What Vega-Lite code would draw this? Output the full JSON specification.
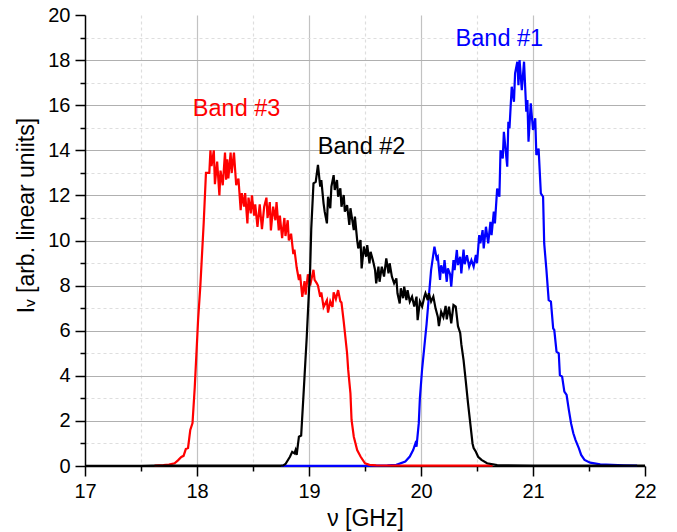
{
  "$schema": "https://vega.github.io/schema/vega-lite/v6.json",
  "width": 560,
  "height": 451,
  "autosize": {"type": "none"},
  "padding": {"left": 85, "top": 15, "right": 32, "bottom": 66},
  "background": "white",
  "config": {"view": {"stroke": null}, "font": "Liberation Sans"},
  "datasets": {
    "spectra": [
      {"band":"Band #1","nu":18.75,"I":0.01},{"band":"Band #1","nu":19.5,"I":0.01},{"band":"Band #1","nu":19.6,"I":0.02},{"band":"Band #1","nu":19.7,"I":0.03},{"band":"Band #1","nu":19.78,"I":0.05},{"band":"Band #1","nu":19.86,"I":0.2},{"band":"Band #1","nu":19.9,"I":0.42},{"band":"Band #1","nu":19.93,"I":0.71},{"band":"Band #1","nu":19.95,"I":1.0},{"band":"Band #1","nu":19.96,"I":0.86},{"band":"Band #1","nu":19.98,"I":1.89},{"band":"Band #1","nu":19.99,"I":3.0},{"band":"Band #1","nu":20.01,"I":4.3},{"band":"Band #1","nu":20.03,"I":5.3},{"band":"Band #1","nu":20.05,"I":6.3},{"band":"Band #1","nu":20.07,"I":7.5},{"band":"Band #1","nu":20.09,"I":8.69},{"band":"Band #1","nu":20.12,"I":9.73},{"band":"Band #1","nu":20.14,"I":9.2},{"band":"Band #1","nu":20.15,"I":9.28},{"band":"Band #1","nu":20.17,"I":8.25},{"band":"Band #1","nu":20.18,"I":8.9},{"band":"Band #1","nu":20.2,"I":8.54},{"band":"Band #1","nu":20.21,"I":9.13},{"band":"Band #1","nu":20.23,"I":8.17},{"band":"Band #1","nu":20.24,"I":8.76},{"band":"Band #1","nu":20.26,"I":8.5},{"band":"Band #1","nu":20.27,"I":7.95},{"band":"Band #1","nu":20.29,"I":9.13},{"band":"Band #1","nu":20.3,"I":8.69},{"band":"Band #1","nu":20.32,"I":9.58},{"band":"Band #1","nu":20.33,"I":8.91},{"band":"Band #1","nu":20.35,"I":9.28},{"band":"Band #1","nu":20.36,"I":8.54},{"band":"Band #1","nu":20.38,"I":9.6},{"band":"Band #1","nu":20.39,"I":8.95},{"band":"Band #1","nu":20.41,"I":9.35},{"band":"Band #1","nu":20.43,"I":8.84},{"band":"Band #1","nu":20.45,"I":9.13},{"band":"Band #1","nu":20.47,"I":8.84},{"band":"Band #1","nu":20.49,"I":9.36},{"band":"Band #1","nu":20.5,"I":8.99},{"band":"Band #1","nu":20.52,"I":10.24},{"band":"Band #1","nu":20.53,"I":9.87},{"band":"Band #1","nu":20.55,"I":10.46},{"band":"Band #1","nu":20.56,"I":9.65},{"band":"Band #1","nu":20.58,"I":10.61},{"band":"Band #1","nu":20.6,"I":9.87},{"band":"Band #1","nu":20.62,"I":10.83},{"band":"Band #1","nu":20.63,"I":10.24},{"band":"Band #1","nu":20.65,"I":11.28},{"band":"Band #1","nu":20.66,"I":10.76},{"band":"Band #1","nu":20.68,"I":12.3},{"band":"Band #1","nu":20.7,"I":11.94},{"band":"Band #1","nu":20.71,"I":14.0},{"band":"Band #1","nu":20.73,"I":13.64},{"band":"Band #1","nu":20.74,"I":14.82},{"band":"Band #1","nu":20.77,"I":13.27},{"band":"Band #1","nu":20.78,"I":15.27},{"band":"Band #1","nu":20.79,"I":14.97},{"band":"Band #1","nu":20.81,"I":16.82},{"band":"Band #1","nu":20.83,"I":16.15},{"band":"Band #1","nu":20.84,"I":17.41},{"band":"Band #1","nu":20.86,"I":17.93},{"band":"Band #1","nu":20.87,"I":16.89},{"band":"Band #1","nu":20.88,"I":18.0},{"band":"Band #1","nu":20.9,"I":16.67},{"band":"Band #1","nu":20.92,"I":17.93},{"band":"Band #1","nu":20.94,"I":15.71},{"band":"Band #1","nu":20.95,"I":16.23},{"band":"Band #1","nu":20.96,"I":14.38},{"band":"Band #1","nu":20.98,"I":16.08},{"band":"Band #1","nu":21.0,"I":14.9},{"band":"Band #1","nu":21.02,"I":15.42},{"band":"Band #1","nu":21.03,"I":13.79},{"band":"Band #1","nu":21.05,"I":14.08},{"band":"Band #1","nu":21.07,"I":12.09},{"band":"Band #1","nu":21.09,"I":11.94},{"band":"Band #1","nu":21.1,"I":9.87},{"band":"Band #1","nu":21.12,"I":8.69},{"band":"Band #1","nu":21.14,"I":7.36},{"band":"Band #1","nu":21.16,"I":7.29},{"band":"Band #1","nu":21.18,"I":6.1},{"band":"Band #1","nu":21.19,"I":6.03},{"band":"Band #1","nu":21.21,"I":5.07},{"band":"Band #1","nu":21.23,"I":5.0},{"band":"Band #1","nu":21.24,"I":4.03},{"band":"Band #1","nu":21.26,"I":3.96},{"band":"Band #1","nu":21.28,"I":3.3},{"band":"Band #1","nu":21.3,"I":3.15},{"band":"Band #1","nu":21.32,"I":2.49},{"band":"Band #1","nu":21.34,"I":1.89},{"band":"Band #1","nu":21.36,"I":1.45},{"band":"Band #1","nu":21.38,"I":1.15},{"band":"Band #1","nu":21.41,"I":0.78},{"band":"Band #1","nu":21.43,"I":0.49},{"band":"Band #1","nu":21.46,"I":0.27},{"band":"Band #1","nu":21.51,"I":0.15},{"band":"Band #1","nu":21.6,"I":0.07},{"band":"Band #1","nu":21.81,"I":0.03},{"band":"Band #1","nu":21.93,"I":0.02},

      {"band":"Band #3","nu":17.62,"I":0.02},{"band":"Band #3","nu":17.7,"I":0.04},{"band":"Band #3","nu":17.75,"I":0.06},{"band":"Band #3","nu":17.8,"I":0.12},{"band":"Band #3","nu":17.83,"I":0.25},{"band":"Band #3","nu":17.86,"I":0.4},{"band":"Band #3","nu":17.88,"I":0.45},{"band":"Band #3","nu":17.9,"I":0.75},{"band":"Band #3","nu":17.92,"I":0.8},{"band":"Band #3","nu":17.94,"I":1.6},{"band":"Band #3","nu":17.96,"I":1.9},{"band":"Band #3","nu":17.98,"I":3.5},{"band":"Band #3","nu":18.0,"I":5.5},{"band":"Band #3","nu":18.01,"I":6.5},{"band":"Band #3","nu":18.03,"I":8.0},{"band":"Band #3","nu":18.06,"I":10.8},{"band":"Band #3","nu":18.08,"I":13.0},{"band":"Band #3","nu":18.11,"I":13.0},{"band":"Band #3","nu":18.12,"I":14.0},{"band":"Band #3","nu":18.13,"I":13.3},{"band":"Band #3","nu":18.15,"I":14.0},{"band":"Band #3","nu":18.16,"I":12.5},{"band":"Band #3","nu":18.18,"I":13.5},{"band":"Band #3","nu":18.2,"I":12.0},{"band":"Band #3","nu":18.21,"I":13.1},{"band":"Band #3","nu":18.23,"I":12.45},{"band":"Band #3","nu":18.25,"I":13.9},{"band":"Band #3","nu":18.26,"I":12.7},{"band":"Band #3","nu":18.27,"I":13.6},{"band":"Band #3","nu":18.28,"I":12.75},{"band":"Band #3","nu":18.3,"I":13.9},{"band":"Band #3","nu":18.31,"I":13.0},{"band":"Band #3","nu":18.33,"I":13.9},{"band":"Band #3","nu":18.35,"I":12.45},{"band":"Band #3","nu":18.37,"I":12.75},{"band":"Band #3","nu":18.39,"I":11.35},{"band":"Band #3","nu":18.4,"I":12.1},{"band":"Band #3","nu":18.42,"I":11.5},{"band":"Band #3","nu":18.43,"I":12.1},{"band":"Band #3","nu":18.45,"I":10.76},{"band":"Band #3","nu":18.46,"I":11.9},{"band":"Band #3","nu":18.48,"I":11.2},{"band":"Band #3","nu":18.49,"I":12.0},{"band":"Band #3","nu":18.51,"I":11.1},{"band":"Band #3","nu":18.52,"I":11.6},{"band":"Band #3","nu":18.54,"I":10.6},{"band":"Band #3","nu":18.56,"I":11.6},{"band":"Band #3","nu":18.58,"I":10.5},{"band":"Band #3","nu":18.6,"I":11.5},{"band":"Band #3","nu":18.62,"I":11.9},{"band":"Band #3","nu":18.63,"I":11.0},{"band":"Band #3","nu":18.65,"I":11.7},{"band":"Band #3","nu":18.66,"I":10.45},{"band":"Band #3","nu":18.68,"I":11.5},{"band":"Band #3","nu":18.7,"I":10.9},{"band":"Band #3","nu":18.71,"I":11.7},{"band":"Band #3","nu":18.73,"I":10.45},{"band":"Band #3","nu":18.74,"I":11.1},{"band":"Band #3","nu":18.76,"I":10.1},{"band":"Band #3","nu":18.78,"I":11.0},{"band":"Band #3","nu":18.79,"I":10.2},{"band":"Band #3","nu":18.81,"I":10.9},{"band":"Band #3","nu":18.82,"I":10.0},{"band":"Band #3","nu":18.84,"I":10.3},{"band":"Band #3","nu":18.86,"I":9.4},{"band":"Band #3","nu":18.87,"I":9.6},{"band":"Band #3","nu":18.89,"I":8.8},{"band":"Band #3","nu":18.91,"I":8.25},{"band":"Band #3","nu":18.92,"I":8.5},{"band":"Band #3","nu":18.94,"I":7.5},{"band":"Band #3","nu":18.96,"I":8.2},{"band":"Band #3","nu":18.97,"I":7.6},{"band":"Band #3","nu":18.99,"I":8.5},{"band":"Band #3","nu":19.01,"I":8.0},{"band":"Band #3","nu":19.04,"I":8.7},{"band":"Band #3","nu":19.05,"I":8.25},{"band":"Band #3","nu":19.07,"I":8.1},{"band":"Band #3","nu":19.08,"I":8.0},{"band":"Band #3","nu":19.1,"I":7.5},{"band":"Band #3","nu":19.11,"I":7.7},{"band":"Band #3","nu":19.13,"I":7.05},{"band":"Band #3","nu":19.16,"I":7.35},{"band":"Band #3","nu":19.17,"I":6.8},{"band":"Band #3","nu":19.19,"I":7.3},{"band":"Band #3","nu":19.21,"I":7.05},{"band":"Band #3","nu":19.22,"I":7.7},{"band":"Band #3","nu":19.24,"I":7.4},{"band":"Band #3","nu":19.26,"I":7.8},{"band":"Band #3","nu":19.28,"I":7.3},{"band":"Band #3","nu":19.29,"I":7.25},{"band":"Band #3","nu":19.31,"I":6.4},{"band":"Band #3","nu":19.34,"I":5.0},{"band":"Band #3","nu":19.35,"I":4.26},{"band":"Band #3","nu":19.37,"I":3.22},{"band":"Band #3","nu":19.38,"I":2.04},{"band":"Band #3","nu":19.4,"I":1.3},{"band":"Band #3","nu":19.43,"I":0.71},{"band":"Band #3","nu":19.46,"I":0.42},{"band":"Band #3","nu":19.5,"I":0.12},{"band":"Band #3","nu":19.54,"I":0.05},{"band":"Band #3","nu":19.6,"I":0.03},{"band":"Band #3","nu":20.0,"I":0.02},{"band":"Band #3","nu":20.64,"I":0.02},

      {"band":"Band #2","nu":17.0,"I":0.01},{"band":"Band #2","nu":17.5,"I":0.01},{"band":"Band #2","nu":17.6,"I":0.02},{"band":"Band #2","nu":18.5,"I":0.02},{"band":"Band #2","nu":18.7,"I":0.02},{"band":"Band #2","nu":18.77,"I":0.03},{"band":"Band #2","nu":18.79,"I":0.09},{"band":"Band #2","nu":18.83,"I":0.41},{"band":"Band #2","nu":18.85,"I":0.63},{"band":"Band #2","nu":18.87,"I":0.56},{"band":"Band #2","nu":18.88,"I":0.7},{"band":"Band #2","nu":18.89,"I":0.49},{"band":"Band #2","nu":18.91,"I":1.3},{"band":"Band #2","nu":18.93,"I":1.35},{"band":"Band #2","nu":18.95,"I":3.07},{"band":"Band #2","nu":18.96,"I":3.96},{"band":"Band #2","nu":18.98,"I":5.73},{"band":"Band #2","nu":19.0,"I":7.8},{"band":"Band #2","nu":19.01,"I":8.7},{"band":"Band #2","nu":19.02,"I":10.5},{"band":"Band #2","nu":19.04,"I":12.53},{"band":"Band #2","nu":19.06,"I":12.6},{"band":"Band #2","nu":19.08,"I":13.35},{"band":"Band #2","nu":19.1,"I":12.39},{"band":"Band #2","nu":19.11,"I":12.68},{"band":"Band #2","nu":19.13,"I":11.65},{"band":"Band #2","nu":19.14,"I":11.28},{"band":"Band #2","nu":19.16,"I":10.76},{"band":"Band #2","nu":19.17,"I":11.94},{"band":"Band #2","nu":19.19,"I":11.43},{"band":"Band #2","nu":19.2,"I":12.39},{"band":"Band #2","nu":19.22,"I":12.9},{"band":"Band #2","nu":19.23,"I":12.24},{"band":"Band #2","nu":19.25,"I":12.68},{"band":"Band #2","nu":19.26,"I":11.94},{"band":"Band #2","nu":19.28,"I":12.31},{"band":"Band #2","nu":19.29,"I":11.5},{"band":"Band #2","nu":19.31,"I":12.02},{"band":"Band #2","nu":19.32,"I":11.28},{"band":"Band #2","nu":19.34,"I":11.57},{"band":"Band #2","nu":19.36,"I":10.69},{"band":"Band #2","nu":19.37,"I":11.43},{"band":"Band #2","nu":19.4,"I":10.46},{"band":"Band #2","nu":19.41,"I":11.06},{"band":"Band #2","nu":19.43,"I":10.02},{"band":"Band #2","nu":19.44,"I":9.65},{"band":"Band #2","nu":19.46,"I":10.02},{"band":"Band #2","nu":19.47,"I":8.76},{"band":"Band #2","nu":19.49,"I":9.73},{"band":"Band #2","nu":19.51,"I":9.28},{"band":"Band #2","nu":19.52,"I":9.8},{"band":"Band #2","nu":19.54,"I":8.99},{"band":"Band #2","nu":19.55,"I":9.5},{"band":"Band #2","nu":19.57,"I":9.13},{"band":"Band #2","nu":19.59,"I":8.69},{"band":"Band #2","nu":19.6,"I":8.1},{"band":"Band #2","nu":19.62,"I":8.84},{"band":"Band #2","nu":19.63,"I":8.17},{"band":"Band #2","nu":19.65,"I":8.84},{"band":"Band #2","nu":19.67,"I":8.4},{"band":"Band #2","nu":19.69,"I":9.21},{"band":"Band #2","nu":19.71,"I":8.54},{"band":"Band #2","nu":19.72,"I":8.99},{"band":"Band #2","nu":19.74,"I":8.4},{"band":"Band #2","nu":19.76,"I":8.1},{"band":"Band #2","nu":19.78,"I":8.32},{"band":"Band #2","nu":19.79,"I":7.66},{"band":"Band #2","nu":19.81,"I":7.21},{"band":"Band #2","nu":19.82,"I":7.88},{"band":"Band #2","nu":19.84,"I":7.44},{"band":"Band #2","nu":19.85,"I":7.95},{"band":"Band #2","nu":19.87,"I":7.36},{"band":"Band #2","nu":19.88,"I":7.8},{"band":"Band #2","nu":19.9,"I":7.29},{"band":"Band #2","nu":19.92,"I":7.51},{"band":"Band #2","nu":19.94,"I":7.07},{"band":"Band #2","nu":19.96,"I":7.51},{"band":"Band #2","nu":19.97,"I":6.47},{"band":"Band #2","nu":19.99,"I":7.29},{"band":"Band #2","nu":20.01,"I":7.07},{"band":"Band #2","nu":20.03,"I":7.51},{"band":"Band #2","nu":20.04,"I":7.66},{"band":"Band #2","nu":20.06,"I":7.36},{"band":"Band #2","nu":20.07,"I":7.66},{"band":"Band #2","nu":20.09,"I":7.29},{"band":"Band #2","nu":20.11,"I":7.51},{"band":"Band #2","nu":20.13,"I":6.99},{"band":"Band #2","nu":20.15,"I":6.62},{"band":"Band #2","nu":20.16,"I":6.2},{"band":"Band #2","nu":20.18,"I":6.84},{"band":"Band #2","nu":20.2,"I":6.6},{"band":"Band #2","nu":20.22,"I":7.1},{"band":"Band #2","nu":20.23,"I":6.5},{"band":"Band #2","nu":20.25,"I":7.07},{"band":"Band #2","nu":20.27,"I":6.33},{"band":"Band #2","nu":20.29,"I":7.14},{"band":"Band #2","nu":20.31,"I":7.07},{"band":"Band #2","nu":20.33,"I":6.2},{"band":"Band #2","nu":20.35,"I":5.9},{"band":"Band #2","nu":20.36,"I":5.4},{"band":"Band #2","nu":20.38,"I":4.7},{"band":"Band #2","nu":20.4,"I":3.75},{"band":"Band #2","nu":20.42,"I":2.78},{"band":"Band #2","nu":20.44,"I":1.89},{"band":"Band #2","nu":20.46,"I":1.0},{"band":"Band #2","nu":20.47,"I":0.8},{"band":"Band #2","nu":20.49,"I":0.63},{"band":"Band #2","nu":20.51,"I":0.41},{"band":"Band #2","nu":20.54,"I":0.27},{"band":"Band #2","nu":20.59,"I":0.12},{"band":"Band #2","nu":20.68,"I":0.04},{"band":"Band #2","nu":21.0,"I":0.02},{"band":"Band #2","nu":22.0,"I":0.02}
    ],
    "labels": [
      {"band":"Band #1","nu":20.7,"I":18.63},
      {"band":"Band #2","nu":19.47,"I":13.82},
      {"band":"Band #3","nu":18.354,"I":15.52}
    ]
  },
  "encoding": {
    "x": {
      "field": "nu", "type": "quantitative",
      "scale": {"domain": [17, 22], "nice": false, "zero": false},
      "axis": {
        "title": "ν [GHz]",
        "format": "~g",
        "values": [17, 17.5, 18, 18.5, 19, 19.5, 20, 20.5, 21, 21.5, 22],
        "labelExpr": "datum.value % 1 === 0 ? datum.label : ''",
        "labelFlush": false, "labelOverlap": false,
        "labelFontSize": 20, "labelColor": "black", "labelPadding": 5,
        "tickColor": "black", "tickWidth": 1.5,
        "tickSize": {"condition": {"test": "datum.value % 1 === 0", "value": 10}, "value": 5},
        "domainColor": "black", "domainWidth": 1.5,
        "grid": true,
        "gridColor": {"condition": {"test": "datum.value % 1 === 0", "value": "#c2c2c2"}, "value": "#dedede"},
        "gridDash": {"condition": {"test": "datum.value % 1 === 0", "value": []}, "value": [3, 3]},
        "gridOpacity": {"condition": {"test": "datum.value === 17 || datum.value === 22", "value": 0}, "value": 1},
        "gridWidth": 1.2,
        "titleFontSize": 23, "titleFontWeight": "normal", "titleColor": "black",
        "titleY": 59, "titleBaseline": "alphabetic"
      }
    },
    "y": {
      "field": "I", "type": "quantitative",
      "scale": {"domain": [0, 20], "nice": false},
      "axis": {
        "title": "Iᵥ  [arb. linear uniits]",
        "format": "~g",
        "values": [0,1,2,3,4,5,6,7,8,9,10,11,12,13,14,15,16,17,18,19,20],
        "labelExpr": "datum.value % 2 === 0 ? datum.label : ''",
        "labelOverlap": false, "labelFlush": false,
        "labelFontSize": 20, "labelColor": "black", "labelPadding": 5,
        "tickColor": "black", "tickWidth": 1.5,
        "tickSize": {"condition": {"test": "datum.value % 2 === 0", "value": 10}, "value": 5},
        "domainColor": "black", "domainWidth": 1.5,
        "grid": true,
        "gridColor": {"condition": {"test": "datum.value % 2 === 0", "value": "#b0b0b0"}, "value": "#dedede"},
        "gridDash": {"condition": {"test": "datum.value % 2 === 0", "value": []}, "value": [3, 3]},
        "gridOpacity": {"condition": {"test": "datum.value === 0 || datum.value === 20", "value": 0}, "value": 1},
        "gridWidth": 1.2,
        "titleFontSize": 23, "titleFontWeight": "normal", "titleColor": "black",
        "titleX": -59, "titleY": 200, "titleBaseline": "middle", "titleAngle": -90
      }
    },
    "color": {
      "field": "band", "type": "nominal",
      "scale": {"domain": ["Band #1", "Band #2", "Band #3"], "range": ["#0000ff", "#000000", "#ff0000"]},
      "legend": null
    }
  },
  "layer": [
    {"data": {"name": "spectra"}, "transform": [{"filter": "datum.band === 'Band #1'"}], "mark": {"type": "line", "strokeWidth": 2.2}},
    {"data": {"name": "spectra"}, "transform": [{"filter": "datum.band === 'Band #3'"}], "mark": {"type": "line", "strokeWidth": 2.2}},
    {"data": {"name": "spectra"}, "transform": [{"filter": "datum.band === 'Band #2'"}], "mark": {"type": "line", "strokeWidth": 2.2}},
    {"data": {"name": "labels"}, "mark": {"type": "text", "fontSize": 23.5, "align": "center", "baseline": "alphabetic", "font": "Liberation Sans"}, "encoding": {"text": {"field": "band"}}}
  ]
}
